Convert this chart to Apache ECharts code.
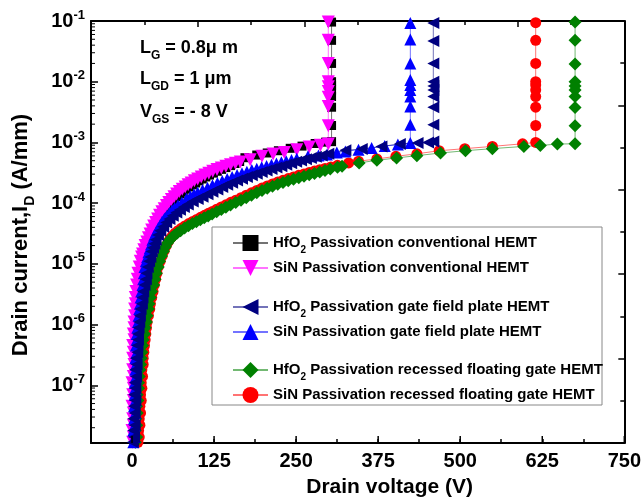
<!DOCTYPE html>
<html><head><meta charset="utf-8">
<script src="https://cdn.jsdelivr.net/npm/echarts@6/dist/echarts.min.js"></script>
<style>html,body{margin:0;padding:0;background:#fff}#c{width:644px;height:503px}</style>
</head><body><div id="c"></div>
<script>
const FONT = '"Liberation Sans", Arial, Helvetica, sans-serif';

// ---- axes ----
const xMin = -62.5, xMax = 750, xStep = 62.5;
const xTickLabels = [0, 125, 250, 375, 500, 625, 750];
const yMin = 1.12e-8, yMax = 0.1;
const yDecadeLabels = [-7, -6, -5, -4, -3, -2, -1];
const yMinorMultipliers = [2, 3, 4, 5, 6, 7, 8, 9];
const yMinorDecades = [-8, -7, -6, -5, -4, -3, -2];

// ---- series names ----
const names = [
  'HfO2 Passivation conventional HEMT',
  'SiN Passivation conventional HEMT',
  'HfO2 Passivation gate field plate HEMT',
  'SiN Passivation gate field plate HEMT',
  'HfO2 Passivation recessed floating gate HEMT',
  'SiN Passivation recessed floating gate HEMT'
];

// ---- data [V, I (A/mm)] ----
const hfo2Conv = [[3,1.15e-8],[4,1.4e-8],[3,1.8e-8],[5,2.2e-8],[3,2.8e-8],[4,3.5e-8],[3,4.5e-8],[5,5.6e-8],[4,7e-8],[5,8.9e-8],[3,1.1e-7],[5,1.4e-7],[4,1.8e-7],[5,2.2e-7],[4,2.8e-7],[6,3.5e-7],[4,4.5e-7],[6,5.6e-7],[5,7e-7],[6,8.9e-7],[6,1.1e-6],[7,1.4e-6],[7,1.8e-6],[8,2.2e-6],[8,2.8e-6],[9,3.5e-6],[10,4.5e-6],[11,5.6e-6],[12,7e-6],[13,8.9e-6],
  [15,1.1e-5],[17,1.3e-5],[19,1.5e-5],[21,1.75e-5],[23,2e-5],[25.5,2.35e-5],[28,2.7e-5],[30.5,3.1e-5],[33,3.6e-5],[36,4.2e-5],[39,4.8e-5],[42.5,5.5e-5],[46,6.3e-5],[49.5,7.2e-5],[53,8.1e-5],[57,9.1e-5],[61,1.02e-4],[65,1.15e-4],[69,1.28e-4],[73.5,1.42e-4],[78,1.55e-4],[82.5,1.7e-4],[87,1.85e-4],[92,2.0e-4],[97,2.15e-4],[102,2.33e-4],[107,2.5e-4],[112.5,2.7e-4],[118,2.9e-4],[124,3.12e-4],[130,3.35e-4],[136.5,3.6e-4],[143,3.85e-4],[150,4.15e-4],[157,4.5e-4],[164,4.85e-4],
  [172,5.6e-4],[190,6.2e-4],[206,6.7e-4],[223,7.3e-4],[241,8.0e-4],[259,8.7e-4],[279,9.6e-4],[295,1.01e-3],[304,1.03e-3],
  [304,1.9e-3],[304,3.8e-3],[304,5.7e-3],[304,7.3e-3],[304,8.6e-3],[304,1.0e-2],[304,2.0e-2],[304,4.8e-2],[304,9.6e-2]];
const sinConv = [[1,1.15e-8],[2,1.4e-8],[0,1.8e-8],[2,2.2e-8],[1,2.8e-8],[2,3.5e-8],[0,4.5e-8],[2,5.6e-8],[1,7e-8],[2,8.9e-8],[0,1.1e-7],[2,1.4e-7],[1,1.8e-7],[3,2.2e-7],[1,2.8e-7],[2,3.5e-7],[1,4.5e-7],[3,5.6e-7],[2,7e-7],[3,8.9e-7],[3,1.1e-6],[4,1.4e-6],[4,1.8e-6],[5,2.2e-6],[5,2.8e-6],[6,3.5e-6],[7,4.5e-6],[8,5.6e-6],[9,7e-6],[11,8.9e-6],
  [12.5,1.1e-5],[14.5,1.3e-5],[16,1.45e-5],[18,1.7e-5],[20,2e-5],[22.5,2.3e-5],[25,2.7e-5],[27.5,3.1e-5],[30,3.6e-5],[33,4.2e-5],[36,4.8e-5],[39,5.5e-5],[42,6.3e-5],[45.5,7.2e-5],[49,8.1e-5],[52.5,9.1e-5],[56,1.02e-4],[60,1.15e-4],[64,1.28e-4],[68,1.41e-4],[72,1.55e-4],[76.5,1.7e-4],[81,1.85e-4],[85.5,2.0e-4],[90,2.15e-4],[95,2.33e-4],[100,2.5e-4],[105.5,2.7e-4],[111,2.9e-4],[117,3.12e-4],[123,3.35e-4],[129.5,3.57e-4],[136,3.8e-4],[143,4.05e-4],[150,4.3e-4],[157.5,4.52e-4],[165,4.75e-4],
  [180,5.2e-4],[198,5.9e-4],[215,6.45e-4],[232,6.85e-4],[251,7.6e-4],[270,8.4e-4],[287,9.0e-4],[299,9.4e-4],
  [299,1.88e-3],[299,3.9e-3],[299,5.55e-3],[299,6.9e-3],[299,8.3e-3],[299,1.0e-2],[299,2.0e-2],[299,4.8e-2],[299,9.6e-2]];
const hfo2Fp = [[1,1.15e-8],[3,1.4e-8],[2,1.8e-8],[4,2.2e-8],[2,2.8e-8],[4,3.5e-8],[3,4.5e-8],[5,5.6e-8],[3,7e-8],[5,8.9e-8],[4,1.1e-7],[6,1.4e-7],[5,1.8e-7],[7,2.2e-7],[6,2.8e-7],[8,3.5e-7],[8,4.5e-7],[9,5.6e-7],[9,7e-7],[10,8.9e-7],[11,1.1e-6],[12,1.4e-6],[13,1.8e-6],[15,2.2e-6],[16,2.8e-6],[17,3.5e-6],[19,4.5e-6],[21,5.6e-6],[22,7e-6],[24,8.9e-6],
  [26,1.1e-5],[28,1.3e-5],[30,1.6e-5],[32,1.85e-5],[34,2.15e-5],[36,2.5e-5],[39.5,3e-5],[43,3.5e-5],[47.5,4.1e-5],[52,4.8e-5],[57,5.5e-5],[62,6.2e-5],[67.5,7e-5],[73,7.8e-5],[79,8.6e-5],[85,9.5e-5],[92.5,1.06e-4],[100,1.17e-4],[107.5,1.28e-4],[115,1.4e-4],[122.5,1.54e-4],[130,1.68e-4],[137.5,1.84e-4],[145,2.0e-4],[152.5,2.17e-4],[160,2.35e-4],[167.5,2.52e-4],[175,2.7e-4],[182.5,2.87e-4],[190,3.05e-4],[197.5,3.25e-4],[205,3.45e-4],[212.5,3.65e-4],[220,3.85e-4],[227.5,4.07e-4],[235,4.3e-4],[242.5,4.55e-4],[250,4.8e-4],[257.5,5.05e-4],[265,5.3e-4],[272.5,5.55e-4],[280,5.8e-4],[289,6.1e-4],[299,6.5e-4],
  [325,7.4e-4],[350,7.8e-4],[380,8.6e-4],[408,9.4e-4],[435,9.8e-4],[451,1.0e-3],[459,1.04e-3],
  [459,1.95e-3],[459,3.8e-3],[459,5.7e-3],[459,7.3e-3],[459,8.5e-3],[459,1.0e-2],[459,2.0e-2],[459,4.7e-2],[459,9.3e-2]];
const sinFp = [[2,1.15e-8],[4,1.4e-8],[2,1.8e-8],[4,2.2e-8],[3,2.8e-8],[5,3.5e-8],[3,4.5e-8],[5,5.6e-8],[4,7e-8],[5,8.9e-8],[4,1.1e-7],[6,1.4e-7],[5,1.8e-7],[6,2.2e-7],[5,2.8e-7],[7,3.5e-7],[6,4.5e-7],[7,5.6e-7],[7,7e-7],[8,8.9e-7],[9,1.1e-6],[10,1.4e-6],[11,1.8e-6],[12,2.2e-6],[13,2.8e-6],[14,3.5e-6],[16,4.5e-6],[17,5.6e-6],[18,7e-6],[19,8.9e-6],
  [21,1.1e-5],[23,1.3e-5],[25,1.55e-5],[27,1.8e-5],[29,2.1e-5],[31,2.5e-5],[34,2.95e-5],[37,3.4e-5],[40,3.9e-5],[43,4.4e-5],[46,5e-5],[49.5,5.6e-5],[53,6.2e-5],[57,6.9e-5],[61,7.6e-5],[65,8.3e-5],[70,9.2e-5],[76,1.02e-4],[83,1.18e-4],[89,1.3e-4],[94.5,1.4e-4],[100,1.5e-4],[107.5,1.65e-4],[115,1.8e-4],[122.5,1.97e-4],[130,2.15e-4],[137.5,2.32e-4],[145,2.5e-4],[152.5,2.7e-4],[160,2.9e-4],[167.5,3.1e-4],[175,3.3e-4],[182.5,3.5e-4],[190,3.7e-4],[197.5,3.9e-4],[205,4.1e-4],[212.5,4.3e-4],[220,4.5e-4],[227.5,4.7e-4],[235,4.9e-4],[243,5.15e-4],[251,5.4e-4],
  [268,5.9e-4],[284,6.1e-4],[297,6.3e-4],[312,6.85e-4],[325,7.1e-4],[345,7.6e-4],[365,8.1e-4],[385,8.7e-4],[405,9.2e-4],[424,9.8e-4],
  [424,1.95e-3],[424,3.9e-3],[424,5.7e-3],[424,7.3e-3],[424,8.8e-3],[424,1.07e-2],[424,2.0e-2],[424,4.96e-2],[424,9.3e-2]];
const hfo2Rfg = [[5,1.15e-8],[7,1.4e-8],[5,1.8e-8],[7,2.2e-8],[6,2.8e-8],[8,3.5e-8],[7,4.5e-8],[9,5.6e-8],[8,7e-8],[10,8.9e-8],[10,1.1e-7],[11,1.4e-7],[12,1.8e-7],[13,2.2e-7],[14,2.8e-7],[15,3.5e-7],[16,4.5e-7],[17,5.6e-7],[19,7e-7],[20,8.9e-7],[22,1.1e-6],[23,1.4e-6],[25,1.8e-6],[26,2.2e-6],[28,2.8e-6],[30,3.5e-6],[33,4.5e-6],[35,5.6e-6],[37,7e-6],[40,8.9e-6],
  [42,1.1e-5],[45,1.35e-5],[48,1.62e-5],[51,1.92e-5],[54,2.2e-5],[57,2.45e-5],[60.5,2.7e-5],[64.5,2.95e-5],[69,3.22e-5],[74,3.5e-5],[80,3.88e-5],[86,4.26e-5],[92,4.6e-5],[98,4.95e-5],[104,5.32e-5],[110,5.72e-5],[116,6.14e-5],[122,6.6e-5],[129,7.2e-5],[136,7.85e-5],[143,8.55e-5],[150,9.3e-5],[158,1.02e-4],[166,1.12e-4],[174,1.23e-4],[182,1.35e-4],[190,1.48e-4],[198,1.62e-4],[206,1.76e-4],[214,1.9e-4],[222,2.04e-4],[230,2.18e-4],[238,2.33e-4],[246,2.48e-4],[254,2.63e-4],[262,2.78e-4],[270,2.93e-4],[278,3.08e-4],[286,3.26e-4],[294,3.45e-4],[302,3.65e-4],[313,3.9e-4],
  [320,4.05e-4],[346,4.6e-4],[373,5.07e-4],[403,5.55e-4],[434,6.05e-4],[470,6.7e-4],[508,7.3e-4],[549,7.9e-4],[597,8.6e-4],[622,8.9e-4],[648,9.4e-4],[675,9.5e-4],
  [675,1.88e-3],[675,3.76e-3],[675,5.69e-3],[675,7.31e-3],[675,8.5e-3],[675,1.0e-2],[675,1.95e-2],[675,4.83e-2],[675,9.6e-2]];
const sinRfg = [[9,1.15e-8],[11,1.4e-8],[10,1.8e-8],[12,2.2e-8],[11,2.8e-8],[13,3.5e-8],[12,4.5e-8],[14,5.6e-8],[13,7e-8],[15,8.9e-8],[14,1.1e-7],[16,1.4e-7],[15,1.8e-7],[17,2.2e-7],[17,2.8e-7],[18,3.5e-7],[19,4.5e-7],[20,5.6e-7],[21,7e-7],[22,8.9e-7],[23,1.1e-6],[25,1.4e-6],[27,1.8e-6],[28,2.2e-6],[30,2.8e-6],[32,3.5e-6],[34,4.5e-6],[36,5.6e-6],[38,7e-6],[40,8.9e-6],
  [43,1.1e-5],[46,1.35e-5],[49,1.65e-5],[52,1.98e-5],[55,2.3e-5],[58,2.6e-5],[61.5,2.9e-5],[65.5,3.2e-5],[70,3.52e-5],[75,3.85e-5],[80.5,4.2e-5],[86.5,4.6e-5],[92.5,5e-5],[98.5,5.4e-5],[104.5,5.85e-5],[110.5,6.3e-5],[116.5,6.8e-5],[122.5,7.3e-5],[129,7.95e-5],[136,8.65e-5],[143,9.4e-5],[150.5,1.03e-4],[158,1.12e-4],[166,1.23e-4],[174,1.35e-4],[182,1.48e-4],[190,1.62e-4],[198,1.77e-4],[206,1.92e-4],[214,2.07e-4],[222,2.22e-4],[230,2.38e-4],[238,2.54e-4],[246,2.7e-4],[254,2.87e-4],[262,3.03e-4],[270,3.2e-4],[278,3.37e-4],[286,3.55e-4],[294,3.73e-4],[303,3.95e-4],[313,4.2e-4],
  [330,4.6e-4],[345,4.9e-4],[373,5.35e-4],[402,5.9e-4],[434,6.5e-4],[468,7.3e-4],[507,7.9e-4],[549,8.6e-4],[595,9.5e-4],[615,1.0e-3],
  [615,1.9e-3],[615,3.8e-3],[615,5.7e-3],[615,7.3e-3],[615,8.8e-3],[615,1.0e-2],[615,2.0e-2],[615,4.8e-2],[615,9.4e-2]];

// ---- tick helper lists ----
const yMinorTicks = [];
yMinorDecades.forEach(e => yMinorMultipliers.forEach(m => {
  const v = m * Math.pow(10, e);
  if (v > yMin && v < yMax) yMinorTicks.push([xMin, v]);
}));
const xMajorTicks = xTickLabels.map(v => [v, yMin]);

const chart = echarts.init(document.getElementById('c'), null, {renderer: 'canvas'});

function mkSeries(name, data, color, symbol, size, rotate) {
  return {
    name, type: 'line', data, symbol, symbolSize: size, symbolRotate: rotate || 0,
    itemStyle: {color},
    lineStyle: {color, width: 1, opacity: 0.55},
    emphasis: {disabled: true},
    animation: false, clip: true
  };
}

const legendText = {
  fontSize: 15, fontWeight: 'bold', fontFamily: FONT, color: '#000',
  rich: {
    n: {fontSize: 15, fontWeight: 'bold', fontFamily: FONT, color: '#000'},
    s: {fontSize: 10, fontWeight: 'bold', fontFamily: FONT, color: '#000', padding: [14, 0, 0, 0]}
  }
};
const legendFmt = name => name.indexOf('HfO2') === 0 ? '{n|HfO}{s|2}{n|' + name.slice(4) + '}' : name;

function mkLegend(top, data) {
  return {
    data, orient: 'vertical', left: 232, top, itemWidth: 35, itemHeight: 20, itemGap: 5,
    padding: 0, selectedMode: false, textStyle: legendText, formatter: legendFmt, z: 10
  };
}

const tickSeries = (data, kind) => ({
  type: 'custom', data, silent: true, animation: false, z: 20, clip: false,
  renderItem: (params, api) => {
    const cs = params.coordSys;
    const p = api.coord([api.value(0), api.value(1)]);
    if (kind === 'y') {
      return {type: 'line', shape: {x1: cs.x, y1: p[1], x2: cs.x + 4, y2: p[1]}, style: {stroke: '#000', lineWidth: 1}};
    }
    return {type: 'line', shape: {x1: p[0], y1: cs.y + cs.height, x2: p[0], y2: cs.y + cs.height - 7}, style: {stroke: '#000', lineWidth: 1.5}};
  }
});

const subRich = (size, sub, pad) => ({
  m: {fontSize: size, fontWeight: 'bold', fontFamily: FONT, fill: '#000'},
  s: {fontSize: sub, fontWeight: 'bold', fontFamily: FONT, fill: '#000', padding: [pad, 0, 0, 0]}
});

const option = {
  backgroundColor: '#fff',
  animation: false,
  grid: {left: 91, right: 19, top: 21, bottom: 57, containLabel: false},
  xAxis: [{
    type: 'value', min: xMin, max: xMax, interval: xStep, position: 'bottom',
    axisLine: {show: true, onZero: false, lineStyle: {color: '#000', width: 2}},
    axisTick: {show: true, inside: true, length: 4, lineStyle: {color: '#000', width: 1.5}},
    axisLabel: {
      margin: 8, fontSize: 20, fontWeight: 'bold', fontFamily: FONT, color: '#000',
      formatter: v => (xTickLabels.indexOf(Math.round(v * 10) / 10) >= 0 ? String(Math.round(v)) : '')
    },
    splitLine: {show: false},
    name: 'Drain voltage (V)', nameLocation: 'middle', nameGap: 34,
    nameTextStyle: {fontSize: 21, fontWeight: 'bold', fontFamily: FONT, color: '#000', padding: [0, 0, 0, 64]}
  }, {
    type: 'value', min: 0, max: 5, interval: 1, position: 'top',
    axisLine: {show: true, onZero: false, lineStyle: {color: '#000', width: 2}},
    axisTick: {show: true, inside: true, length: 6, lineStyle: {color: '#000', width: 1.5}},
    minorTick: {show: true, splitNumber: 2, length: 4, lineStyle: {color: '#000', width: 1.5}},
    axisLabel: {show: false}, splitLine: {show: false}
  }],
  yAxis: [{
    type: 'log', logBase: 10, min: yMin, max: yMax, position: 'left',
    axisLine: {show: true, onZero: false, lineStyle: {color: '#000', width: 2}},
    axisTick: {show: true, inside: true, length: 7, lineStyle: {color: '#000', width: 1.5}},
    axisLabel: {
      margin: 6, color: '#000',
      formatter: v => {
        const e = Math.log10(v);
        const r = Math.round(e);
        if (Math.abs(e - r) > 0.01 || yDecadeLabels.indexOf(r) < 0) return '';
        return '{b|10}{s|' + r + '}';
      },
      rich: {
        b: {fontSize: 20, fontWeight: 'bold', fontFamily: FONT, color: '#000'},
        s: {fontSize: 13, fontWeight: 'bold', fontFamily: FONT, color: '#000', padding: [0, 0, 12, 0]}
      }
    },
    splitLine: {show: false}
  }, {
    type: 'value', min: 0, max: 5, interval: 1, position: 'right',
    axisLine: {show: true, onZero: false, lineStyle: {color: '#000', width: 2}},
    axisTick: {show: true, inside: true, length: 6, lineStyle: {color: '#000', width: 1.5}},
    minorTick: {show: true, splitNumber: 2, length: 4, lineStyle: {color: '#000', width: 1.5}},
    axisLabel: {show: false}, splitLine: {show: false}
  }],
  legend: [
    mkLegend(235, [names[0], names[1]]),
    mkLegend(299, [names[2], names[3]]),
    mkLegend(362, [names[4], names[5]])
  ],
  graphic: [
    {type: 'rect', z: 3, shape: {x: 212, y: 227, width: 390, height: 178}, style: {fill: '#fff', stroke: '#888', lineWidth: 1}},
    {type: 'text', z: 10, x: 140, y: 48, style: {text: '{m|L}{s|G}{m| = 0.8\u03bc m}', verticalAlign: 'middle', align: 'left', rich: subRich(18, 12, 16)}},
    {type: 'text', z: 10, x: 140, y: 79, style: {text: '{m|L}{s|GD}{m| = 1 \u03bcm}', verticalAlign: 'middle', align: 'left', rich: subRich(18, 12, 16)}},
    {type: 'text', z: 10, x: 140, y: 112, style: {text: '{m|V}{s|GS}{m| = - 8 V}', verticalAlign: 'middle', align: 'left', rich: subRich(18, 12, 16)}},
    {type: 'text', z: 10, x: 21, y: 235, rotation: Math.PI / 2, style: {text: '{m|Drain current,I}{s|D}{m| (A/mm)}', verticalAlign: 'middle', align: 'center', rich: subRich(22, 14, 18)}}
  ],
  series: [
    mkSeries(names[5], sinRfg, '#ff0000', 'circle', 11),
    mkSeries(names[4], hfo2Rfg, '#008000', 'diamond', 13),
    mkSeries(names[0], hfo2Conv, '#000000', 'rect', 9),
    mkSeries(names[1], sinConv, '#ff00ff', 'triangle', 13, 180),
    mkSeries(names[3], sinFp, '#0000ff', 'triangle', 12),
    mkSeries(names[2], hfo2Fp, '#000080', 'triangle', 12, 90),
    tickSeries(yMinorTicks, 'y'),
    tickSeries(xMajorTicks, 'x')
  ]
};
chart.setOption(option);
</script>
</body></html>
